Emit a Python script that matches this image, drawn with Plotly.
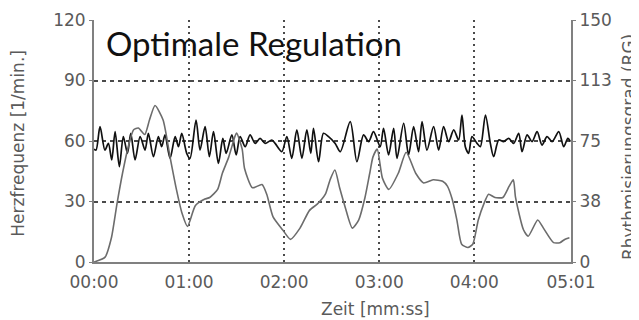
import plotly.graph_objects as go

# Heart rate (black) - time in seconds, value in 1/min
hr_t = [0, 1.3, 3.8, 6.9, 9.1, 11.2, 13.3, 16.0, 18.5, 21.1, 23.2, 25.9, 29.1, 32.2, 34.3,
        37.5, 40.6, 42.7, 44.8, 48.0, 51.2, 53.3, 55.4, 58.5, 60.6, 64.4, 66.9, 70.1, 72.8,
        75.4, 78.5, 81.3, 83.4, 87.0, 89.7, 92.2, 95.4, 98.5, 101.7, 104.8, 108.0, 112.2,
        114.3, 118.5, 121.7, 124.8, 128.0, 131.2, 134.3, 136.8, 138.5, 141.7, 144.8, 148.0,
        152.2, 155.4, 161.7, 165.9, 170.1, 173.3, 176.4, 180.6, 182.7, 185.9, 189.1, 191.2,
        195.4, 198.5, 201.7, 204.8, 207.0, 210.1, 214.3, 217.5, 220.6, 223.8, 227.0, 230.1,
        232.2, 234.3, 236.4, 238.5, 241.7, 243.8, 247.0, 250.1, 252.2, 255.4, 258.5, 261.7,
        264.8, 268.0, 270.1, 273.3, 276.4, 279.6, 282.7, 285.9, 289.1, 293.3, 296.4, 299.0, 300.6]
hr_v = [56, 55.5, 67.1, 55.5, 58.8, 50.6, 64.6, 47.3, 62.2, 53.9, 63.8, 50.6, 62.2, 55.5, 63.8,
        52.2, 62.2, 57.2, 63.0, 51.4, 62.2, 57.2, 63.8, 53.9, 51.4, 70.4, 55.5, 67.1, 52.2,
        64.6, 48.9, 61.3, 53.9, 63.0, 53.1, 62.2, 57.2, 63.0, 58.8, 61.3, 58.8, 60.5,
        58.8, 54.7, 62.2, 51.4, 65.5, 51.4, 65.5, 53.9, 66.3, 49.7, 63.8, 62.2,
        58.8, 54.7, 69.6, 49.7, 63.0, 59.7, 64.6, 57.2, 66.3, 53.1, 66.3, 51.4,
        68.8, 53.1, 67.1, 54.7, 69.6, 55.5, 67.1, 55.5, 67.1, 59.7, 65.5, 60.5,
        72.9, 57.2, 53.9, 62.2, 58.8, 57.2, 72.9, 58.8, 52.2, 60.5, 59.7, 61.3,
        58.8, 63.8, 54.7, 63.0, 59.7, 64.6, 58.0, 62.2, 59.7, 64.6, 57.2, 61.3, 59.7]

# Rhythmisierungsgrad (grey) - time in seconds, value in RG units (right axis)
rg_t = [0, 7, 11, 14.5, 18, 21.5, 25, 28, 32, 35, 38.5, 43.6, 48, 52, 55.6, 59, 64, 70, 73, 78,
        81, 85, 89, 90, 93.5, 95, 100, 106, 109, 113, 119, 124, 130, 136, 141, 146, 149, 152,
        155, 158.5, 163, 167, 171, 174, 176, 178.7, 182, 186, 192, 197, 203, 208, 214, 220,
        223, 226, 229, 232, 236, 239, 242.5, 246, 249, 253, 258, 262, 264.6, 266, 271, 274,
        280, 283.6, 290, 294, 297, 300]
rg_v = [0, 3, 15, 36, 55, 71, 82, 83, 79, 88, 97, 88, 65, 45, 30, 22, 35, 39, 40, 45,
        55, 65, 78, 80, 70, 58, 46, 48, 42, 28, 20, 14, 21, 32, 36, 42, 51, 57,
        46, 34, 21, 26, 40, 55, 65, 70, 52, 45, 55, 68, 55, 49, 51, 50,
        47, 39, 26, 11, 9, 11, 26, 36, 42, 40, 40, 47, 51, 40, 20, 16,
        26, 21, 12, 12, 14, 15]

x_tickvals = [0, 60, 120, 180, 240, 301]
x_ticktext = ["00:00", "01:00", "02:00", "03:00", "04:00", "05:01"]
y_tickvals = [0, 30, 60, 90, 120]
y2_tickvals = [0, 37.5, 75, 112.5, 150]
y2_ticktext = ["0", "38", "75", "113", "150"]

title_text = "Optimale Regulation"
ylabel = "Herzfrequenz [1/min.]"
y2label = "Rhythmisierungsgrad (RG)"
xlabel = "Zeit [mm:ss]"

AX = "#808080"
TXT = "#5a5a5a"
GRID = "#4a4a4a"
FONT = "DejaVu Sans"
FS = 17

fig = go.Figure()
fig.add_trace(go.Scatter(x=rg_t, y=rg_v, yaxis="y2", mode="lines",
                         line=dict(color="#6c6c6c", width=1.6, shape="spline", smoothing=0.6),
                         showlegend=False))
fig.add_trace(go.Scatter(x=hr_t, y=hr_v, mode="lines",
                         line=dict(color="#111111", width=1.7, shape="spline", smoothing=0.8),
                         showlegend=False))

fig.update_layout(
    width=631, height=312,
    margin=dict(l=86, r=68, t=12, b=58, autoexpand=False),
    paper_bgcolor="white", plot_bgcolor="white",
    font=dict(family=FONT, size=FS, color=TXT),
    xaxis=dict(range=[0, 301], tickvals=x_tickvals, ticktext=x_ticktext, automargin=False,
               showgrid=True, gridcolor=GRID, griddash="2px,4px", gridwidth=2,
               showline=True, linecolor=AX, linewidth=2, zeroline=False,
               ticks="", ticklabelstandoff=4,
               tickfont=dict(size=FS, color=TXT, family=FONT)),
    yaxis=dict(range=[0, 120], tickvals=y_tickvals, automargin=False,
               showgrid=True, gridcolor=GRID, griddash="4px,4px", gridwidth=1.5,
               showline=True, linecolor=AX, linewidth=2, zeroline=False,
               ticks="outside", ticklen=3, tickcolor=AX,
               tickfont=dict(size=FS, color=TXT, family=FONT)),
    yaxis2=dict(range=[0, 150], tickvals=y2_tickvals, ticktext=y2_ticktext, automargin=False,
                overlaying="y", side="right", showgrid=False,
                showline=True, linecolor=AX, linewidth=2, zeroline=False,
                ticks="outside", ticklen=3, tickcolor=AX,
                tickfont=dict(size=FS, color=TXT, family=FONT)),
    annotations=[
        dict(text=title_text, xref="paper", yref="paper", x=0.022, y=0.905,
             xanchor="left", yanchor="middle", showarrow=False,
             font=dict(family="Lato", size=33, color="#111111")),
        dict(text=ylabel, xref="paper", yref="paper", x=-0.16, y=0.4917,
             xanchor="center", yanchor="middle", showarrow=False, textangle=-90,
             font=dict(family=FONT, size=FS, color=TXT)),
        dict(text=y2label, xref="paper", yref="paper", x=1.1216, y=0.475,
             xanchor="center", yanchor="middle", showarrow=False, textangle=-90,
             font=dict(family=FONT, size=FS, color=TXT)),
        dict(text=xlabel, xref="paper", yref="paper", x=0.591, y=-0.194,
             xanchor="center", yanchor="middle", showarrow=False,
             font=dict(family=FONT, size=FS, color=TXT)),
    ],
)

fig.write_html("out.html")
